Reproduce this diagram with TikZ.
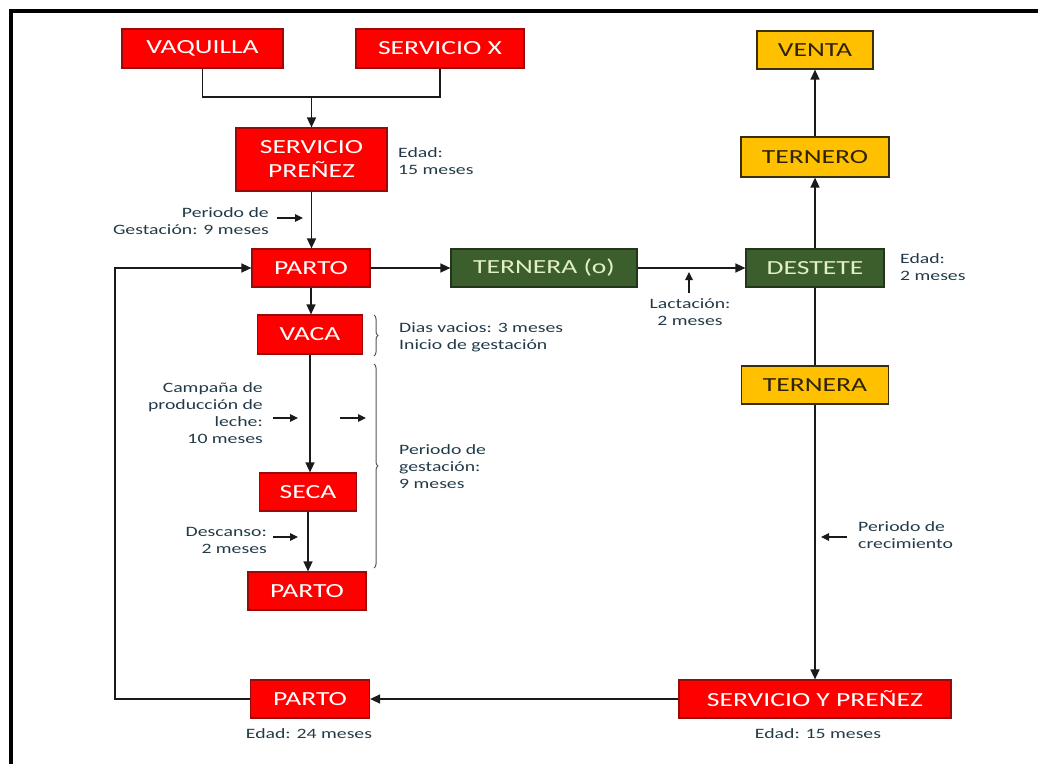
\documentclass[tikz,border=0pt]{standalone}
\usepackage{fontspec}
\setmainfont{Carlito}[FakeStretch=1.38]
\usetikzlibrary{arrows.meta,decorations.pathreplacing}
\definecolor{redfill}{HTML}{FF0000}
\definecolor{redline}{HTML}{9A0A0A}
\definecolor{greenfill}{HTML}{3C5E2C}
\definecolor{greenline}{HTML}{22361A}
\definecolor{greentext}{HTML}{E2F0C6}
\definecolor{yellowfill}{HTML}{FFC000}
\definecolor{yellowline}{HTML}{3A2E08}
\definecolor{yellowtext}{HTML}{2E2208}
\definecolor{notetext}{HTML}{223A48}
\definecolor{linegray}{HTML}{1A1A1A}
\definecolor{bracegray}{HTML}{555555}
\tikzset{
  box/.style={draw, line width=1.2pt, inner sep=0pt, align=center,
    font=\fontsize{20}{24}\selectfont},
  redbox/.style={box, fill=redfill, draw=redline, text=white},
  greenbox/.style={box, fill=greenfill, draw=greenline, text=greentext},
  yellowbox/.style={box, fill=yellowfill, draw=yellowline, text=yellowtext},
  note/.style={inner sep=0pt, text=notetext, font=\fontsize{14.3}{17}\selectfont},
  conn/.style={draw=linegray, line width=1.4pt},
  arr/.style={conn, -{Triangle[length=10pt,width=9pt]}},
  tick/.style={draw=linegray, line width=1.2pt, -{Triangle[length=8pt,width=7.5pt]}},
  bracket/.style={draw=bracegray, line width=1pt,
    decorate, decoration={brace, amplitude=4pt}},
}
\begin{document}
\begin{tikzpicture}[x=1pt, y=-1pt]
\useasboundingbox (0,0) rectangle (1038,764);

% frame
\draw[line width=4pt] (1038,11) -- (11,11) -- (11,764);

% left column: cow cycle
\node[redbox, minimum width=161pt, minimum height=39pt] (vaq) at (202.5,48.5) {VAQUILLA};
\node[redbox, minimum width=168pt, minimum height=39pt] (sx) at (440,48.5) {SERVICIO X};
\node[redbox, minimum width=151pt, minimum height=63pt] (sp) at (311.5,159.5) {SERVICIO\\PREÑEZ};
\node[redbox, minimum width=118pt, minimum height=38pt] (parto1) at (311,268) {PARTO};
\node[redbox, minimum width=105pt, minimum height=39pt] (vaca) at (310,334.5) {VACA};
\node[redbox, minimum width=97pt, minimum height=38pt] (seca) at (308,492) {SECA};
\node[redbox, minimum width=118pt, minimum height=38pt] (parto2) at (307,591) {PARTO};
\node[redbox, minimum width=119pt, minimum height=38pt] (parto3) at (310,699) {PARTO};

% calf line
\node[greenbox, minimum width=186pt, minimum height=38pt] (terno) at (544,268) {TERNERA (o)};
\node[greenbox, minimum width=138pt, minimum height=38pt] (dest) at (815,268) {DESTETE};
\node[yellowbox, minimum width=148pt, minimum height=40pt] (ternero) at (815,157) {TERNERO};
\node[yellowbox, minimum width=116pt, minimum height=38pt] (venta) at (815,50) {VENTA};
\node[yellowbox, minimum width=147pt, minimum height=38pt] (ternera) at (815,385) {TERNERA};
\node[redbox, minimum width=272pt, minimum height=38pt] (syp) at (815,699) {SERVICIO Y PREÑEZ};

% connectors
\coordinate (join) at (311.5,97);
\draw[conn] (vaq.south) |- (join) -| (sx.south);
\draw[arr] (join) -- (sp.north);
\draw[arr] (sp.south) -- (sp.south |- parto1.north);
\draw[arr] (parto1.east) -- (terno.west);
\draw[arr] (terno.east) -- (dest.west);
\draw[arr] (dest.north) -- (ternero.south);
\draw[arr] (ternero.north) -- (venta.south);
\draw[conn] (dest.south) -- (ternera.north);
\draw[arr] (ternera.south) -- (syp.north);
\draw[arr] (syp.west) -- (parto3.east);
\coordinate (loop) at (115,699);
\draw[arr] (parto3.west) -- (loop) |- (parto1.west);
\draw[arr] (parto1.south) -- (parto1.south |- vaca.north);
\draw[arr] (vaca.south) -- (vaca.south |- seca.north);
\draw[arr] (seca.south) -- (seca.south |- parto2.north);

% braces
\draw[bracket] (374,315) -- (374,356);
\draw[bracket] (374,364) -- (374,568);

% small pointer arrows
\coordinate (g1) at (277,218);  \coordinate (g2) at (303,218);
\coordinate (c1) at (273,418);  \coordinate (c2) at (298,418);
\coordinate (c3) at (340,418);  \coordinate (c4) at (366,418);
\coordinate (d1) at (273,537);  \coordinate (d2) at (298,537);
\coordinate (l1) at (689,293);  \coordinate (l2) at (689,272);
\coordinate (k1) at (847,537);  \coordinate (k2) at (821,537);
\draw[tick] (g1) -- (g2);
\draw[tick] (c1) -- (c2);
\draw[tick] (c3) -- (c4);
\draw[tick] (d1) -- (d2);
\draw[tick] (l1) -- (l2);
\draw[tick] (k1) -- (k2);

% notes
\node[note, anchor=west, align=left] (n1) at (398,161) {Edad:\\15 meses};
\node[note, anchor=east, align=right] (n2) at (269,221.5) {Periodo de\\Gestación: 9 meses};
\node[note, anchor=west, align=left] (n3) at (399,337.5) {Dias vacios: 3 meses\\Inicio de gestación};
\node[note, anchor=west, align=left] (n4) at (399,467) {Periodo de\\gestación:\\9 meses};
\node[note, anchor=east, align=right] (n5) at (263,413) {Campaña de\\producción de\\leche:\\10 meses};
\node[note, anchor=east, align=right] (n6) at (267,540) {Descanso:\\2 meses};
\node[note, align=center] (n7) at (690,312.5) {Lactación:\\2 meses};
\node[note, anchor=west, align=left] (n8) at (900,267.5) {Edad:\\2 meses};
\node[note, anchor=west, align=left] (n9) at (858,535.5) {Periodo de\\crecimiento};
\node[note] (n10) at (309,734) {Edad: 24 meses};
\node[note] (n11) at (818,734) {Edad: 15 meses};
\end{tikzpicture}
\end{document}
